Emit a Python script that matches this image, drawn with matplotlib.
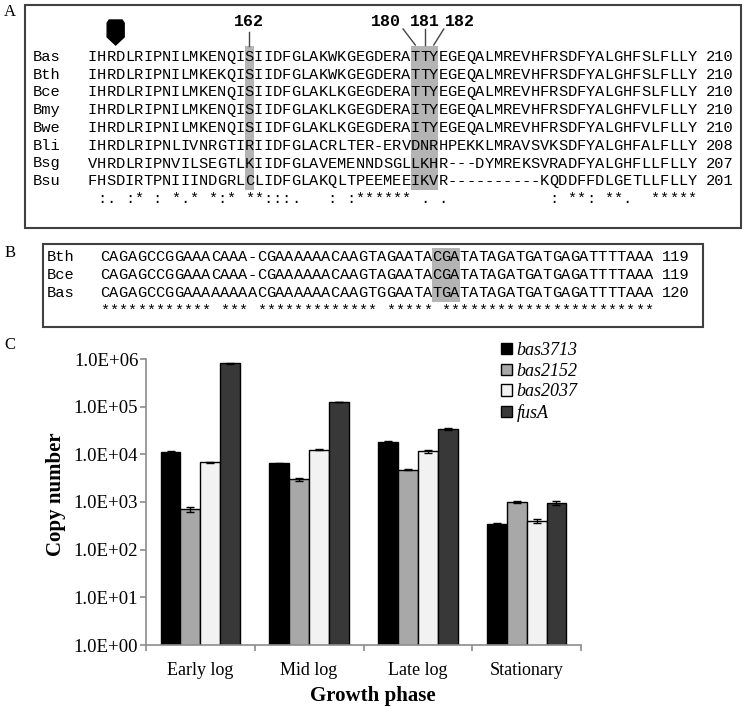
import numpy as np
import matplotlib
matplotlib.use("Agg")
import matplotlib.pyplot as plt
from matplotlib.patches import Rectangle, Polygon
from matplotlib.ticker import FuncFormatter, NullLocator

plt.rcParams['font.family'] = ['Liberation Serif', 'DejaVu Serif']

# ---- panel A: kinase alignment
a_names = ["Bas", "Bth", "Bce", "Bmy", "Bwe", "Bli", "Bsg", "Bsu"]
a_seqs = [
    "IHRDLRIPNILMKENQISIIDFGLAKWKGEGDERATTYEGEQALMREVHFRSDFYALGHFSLFLLY",
    "IHRDLRIPNILMKEKQISIIDFGLAKWKGEGDERATTYEGEQALMREVHFRSDFYALGHFSLFLLY",
    "IHRDLRIPNILMKENQISIIDFGLAKLKGEGDERATTYEGEQALMREVHFRSDFYALGHFSLFLLY",
    "IHRDLRIPNILMKENQISIIDFGLAKLKGEGDERAITYEGEQALMREVHFRSDFYALGHFVLFLLY",
    "IHRDLRIPNILMKENQISIIDFGLAKLKGEGDERAITYEGEQALMREVHFRSDFYALGHFVLFLLY",
    "IHRDLRIPNLIVNRGTIRIIDFGLACRLTER-ERVDNRHPEKKLMRAVSVKSDFYALGHFALFLLY",
    "VHRDLRIPNVILSEGTLKIIDFGLAVEMENNDSGLLKHR---DYMREKSVRADFYALGHFLLFLLY",
    "FHSDIRTPNIIINDGRLCLIDFGLAKQLTPEEMEEIKVR----------KQDDFFDLGETLLFLLY",
]
a_ends = [210, 210, 210, 210, 210, 208, 207, 201]
a_cons = " :. :* : *.* *:* **:::.   : :****** . .           : **: **.  *****"
a_sites = [162, 180, 181, 182]
a_marker_col = 3

# ---- panel B: nucleotide alignment
b_names = ["Bth", "Bce", "Bas"]
b_seqs = [
    "CAGAGCCGGAAACAAA-CGAAAAAACAAGTAGAATACGATATAGATGATGAGATTTTAAA",
    "CAGAGCCGGAAACAAA-CGAAAAAACAAGTAGAATACGATATAGATGATGAGATTTTAAA",
    "CAGAGCCGGAAAAAAAACGAAAAAACAAGTGGAATATGATATAGATGATGAGATTTTAAA",
]
b_ends = [119, 119, 120]
b_cons = "************ *** ************* ***** ***********************"
b_codon = [36, 37, 38]

# ---- panel C: copy numbers
phases = ["Early log", "Mid log", "Late log", "Stationary"]
genes = ["bas3713", "bas2152", "bas2037", "fusA"]
bas3713 = [1.13e4, 6.5e3, 1.85e4, 3.5e2]
bas2152 = [7.1e2, 3.0e3, 4.8e3, 1.0e3]
bas2037 = [6.8e3, 1.25e4, 1.15e4, 4.0e2]
fusA = [8.1e5, 1.25e5, 3.4e4, 9.5e2]
err3713 = [3e2, 2e2, 5e2, 1e1]
err2152 = [9e1, 2.5e2, 2e2, 3e1]
err2037 = [1.5e2, 3e2, 6e2, 3.5e1]
errfusA = [1e4, 2e3, 1e3, 9e1]
colors = ["#000000", "#a8a8a8", "#f2f2f2", "#383838"]

W, H = 745, 707
fig = plt.figure(figsize=(W / 100, H / 100), dpi=100)
ov = fig.add_axes([0, 0, 1, 1])
ov.set_xlim(0, W)
ov.set_ylim(H, 0)
ov.axis("off")

CW = 9.22                      # px per alignment column
MONO = dict(family="Liberation Mono", fontsize=CW / 0.6 * 0.72)
HL = "#b4b4b4"


def draw_seq(x0, y, seq):
    for i, ch in enumerate(seq):
        if ch != " ":
            ov.text(x0 + (i + 0.5) * CW, y, ch, ha="center", va="center", **MONO)


# panel A
ax0, ay0, dy = 88, 57, 17.75
ov.add_patch(Rectangle((25, 5), 716, 223, fill=False, ec="#404040", lw=1.5))
ov.text(10, 12, "A", ha="center", va="center", fontsize=12)
first_res = a_ends[0] - (len(a_seqs[0]) - 1)
cols = [s - first_res for s in a_sites]
rows_bottom = ay0 + dy * (len(a_seqs) - 1) + 9
ov.add_patch(Rectangle((ax0 + cols[0] * CW, 46), CW, rows_bottom - 46,
                       fc=HL, ec="none", zorder=0))
ov.add_patch(Rectangle((ax0 + cols[1] * CW, 46), 3 * CW, rows_bottom - 46,
                       fc=HL, ec="none", zorder=0))
for k, (nm, sq, en) in enumerate(zip(a_names, a_seqs, a_ends)):
    y = ay0 + k * dy
    ov.text(33, y, nm, ha="left", va="center", **MONO)
    draw_seq(ax0, y, sq)
    ov.text(ax0 + (len(sq) + 1) * CW, y, str(en), ha="left", va="center", **MONO)
draw_seq(ax0, ay0 + len(a_seqs) * dy, a_cons)

LAB = dict(family="Liberation Mono", fontsize=12, fontweight="bold",
           ha="center", va="center")
cx = [ax0 + (c + 0.5) * CW for c in cols]
ov.text(cx[0], 22, str(a_sites[0]), **LAB)
ov.plot([cx[0], cx[0]], [32, 46], color="#444444", lw=1)
offs = [-39, 0, 35]
for c, o, s in zip(cx[1:], offs, a_sites[1:]):
    ov.text(cx[2] + o, 21, str(s), **LAB)
    ov.plot([cx[2] + o * 0.55, c], [29, 45], color="#444444", lw=1)

mx = ax0 + a_marker_col * CW
ov.add_patch(Polygon([(mx - 8.5, 23), (mx - 6.5, 20), (mx + 6.5, 20), (mx + 8.5, 23),
                      (mx + 8.5, 37), (mx, 45), (mx - 8.5, 37)],
                     closed=True, fc="black", ec="black"))

# panel B
bx0, by0, bdy = 100, 257, 18
ov.add_patch(Rectangle((43, 244), 660, 83, fill=False, ec="#404040", lw=1.5))
ov.text(10, 253, "B", ha="center", va="center", fontsize=12)
ov.add_patch(Rectangle((bx0 + b_codon[0] * CW, by0 - 9), len(b_codon) * CW,
                       bdy * (len(b_seqs) - 1) + 18, fc=HL, ec="none", zorder=0))
for k, (nm, sq, en) in enumerate(zip(b_names, b_seqs, b_ends)):
    y = by0 + k * bdy
    ov.text(47, y, nm, ha="left", va="center", **MONO)
    draw_seq(bx0, y, sq)
    ov.text(bx0 + (len(sq) + 1) * CW, y, str(en), ha="left", va="center", **MONO)
draw_seq(bx0, by0 + len(b_seqs) * bdy, b_cons)

# panel C
ov.text(10, 345, "C", ha="center", va="center", fontsize=12)
left, right, top, bot = 146, 581, 359, 645
ax = fig.add_axes([left / W, 1 - bot / H, (right - left) / W, (bot - top) / H])
vals = [bas3713, bas2152, bas2037, fusA]
errs = [err3713, err2152, err2037, errfusA]
bw = 0.183
x = np.arange(len(phases)) + 0.5
bars = []
for j, (v, e, c) in enumerate(zip(vals, errs, colors)):
    b = ax.bar(x + (j - 1.5) * bw, v, bw, color=c, edgecolor="black", lw=1,
               yerr=e, capsize=3,
               error_kw=dict(elinewidth=1, capthick=1, ecolor="black"))
    bars.append(b)

ax.set_yscale("log")
ax.set_ylim(1, 1e6)
ax.set_xlim(0, len(phases))
ax.set_yticks([10.0 ** k for k in range(7)])
ax.yaxis.set_minor_locator(NullLocator())
ax.yaxis.set_major_formatter(FuncFormatter(lambda v, p: f"{v:.1E}"))
ax.set_xticks(np.arange(len(phases) + 1))
ax.set_xticklabels([])
ax.set_xticks(x, minor=True)
ax.set_xticklabels(phases, minor=True)
ax.tick_params(axis="x", which="minor", length=0, pad=12, labelsize=13)
ax.tick_params(axis="x", which="major", length=4.5, color="#8c8c8c", width=1.2)
ax.tick_params(axis="y", length=4, pad=1.5, color="#8c8c8c", width=1.2, labelsize=13.5)
for s in ["top", "right"]:
    ax.spines[s].set_visible(False)
for s in ["left", "bottom"]:
    ax.spines[s].set_color("#8c8c8c")
    ax.spines[s].set_linewidth(1.2)

ax.set_ylabel("Copy number", fontsize=15, fontweight="bold")
ax.yaxis.set_label_coords((66 - left) / (right - left), (bot - 494) / (bot - top))
ax.set_xlabel("Growth phase", fontsize=15, fontweight="bold")
ax.xaxis.set_label_coords((373 - left) / (right - left), (bot - 686) / (bot - top))

ax.legend(bars, genes, loc="upper left", bbox_to_anchor=(501 / W, 1 - 342 / H),
          bbox_transform=fig.transFigure, frameon=False,
          prop=dict(style="italic", size=13), handlelength=0.6, handleheight=0.6,
          handletextpad=0.25, labelspacing=0.2, borderpad=0, borderaxespad=0)

fig.savefig("out.png", dpi=100)
